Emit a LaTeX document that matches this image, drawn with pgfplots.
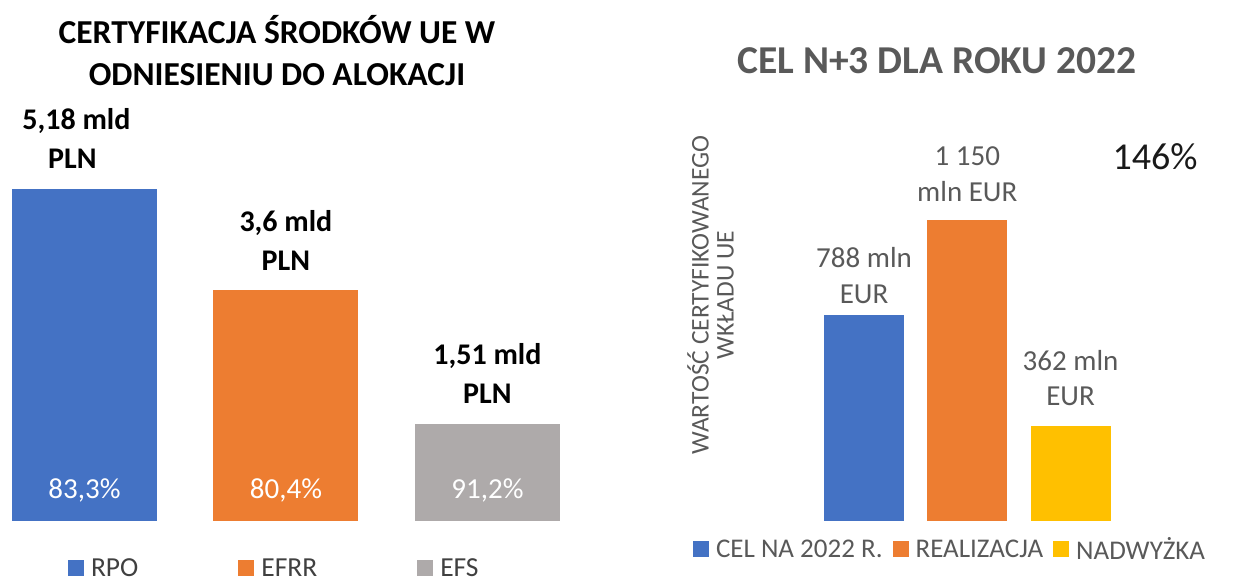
\documentclass[border=0pt]{standalone}
\usepackage{pgfplots}
\pgfplotsset{compat=1.18}
\usepackage{fontspec}
\setmainfont{Carlito}
\definecolor{cblue}{HTML}{4472C4}
\definecolor{corange}{HTML}{ED7D31}
\definecolor{cgray}{HTML}{AEAAAA}
\definecolor{cyellow}{HTML}{FFC000}
\definecolor{tgray}{HTML}{595959}
\definecolor{tdark}{HTML}{404040}
\pgfplotsset{sqleg/.style={legend image code/.code={\fill[##1] (0pt,-8pt) rectangle (16pt,8pt);}}}
\begin{document}
\begin{tikzpicture}[x=1pt,y=1pt]
\useasboundingbox (0,0) rectangle (1257,581);
% ---------- left panel ----------
\node[anchor=base, font=\fontsize{33.5}{40}\selectfont\bfseries] at (277,537.5) {CERTYFIKACJA ŚRODKÓW UE W};
\node[anchor=base, font=\fontsize{33.5}{40}\selectfont\bfseries] at (277,495.5) {ODNIESIENIU DO ALOKACJI};
\begin{axis}[
  at={(0pt,60.5pt)}, anchor=south west, scale only axis,
  x=201.5pt, y=64pt, xmin=-0.419, xmax=2.6, ymin=0, ymax=6,
  hide axis, clip=false,
  legend columns=3,
  legend style={draw=none, fill=none, inner sep=0pt, outer sep=0pt,
    at={(axis description cs:0.1118,-0.1240)}, anchor=west,
    font=\fontsize{27.5}{32}\selectfont, text=tdark,
    nodes={inner sep=0pt},
    /tikz/every odd column/.append style={column sep=7pt},
    /tikz/every even column/.append style={column sep=100pt}},
  legend cell align=left,
]
\addplot[ybar, bar width=145pt, fill=cblue, draw=none, sqleg] coordinates {(0,5.18)};
\addplot[ybar, bar width=145pt, fill=corange, draw=none, sqleg] coordinates {(1,3.6)};
\addplot[ybar, bar width=145pt, fill=cgray, draw=none, sqleg] coordinates {(2,1.51)};
\legend{RPO, EFRR, EFS}
% labels above
\node[anchor=base, font=\fontsize{30}{36}\selectfont\bfseries, yshift=59pt, xshift=-8pt] at (axis cs:0,5.18) {5,18 mld};
\node[anchor=base, font=\fontsize{30}{36}\selectfont\bfseries, yshift=20pt, xshift=-12pt] at (axis cs:0,5.18) {PLN};
\node[anchor=base, font=\fontsize{30}{36}\selectfont\bfseries, yshift=59pt] at (axis cs:1,3.6) {3,6 mld};
\node[anchor=base, font=\fontsize{30}{36}\selectfont\bfseries, yshift=20pt] at (axis cs:1,3.6) {PLN};
\node[anchor=base, font=\fontsize{30}{36}\selectfont\bfseries, yshift=59pt] at (axis cs:2,1.51) {1,51 mld};
\node[anchor=base, font=\fontsize{30}{36}\selectfont\bfseries, yshift=20pt] at (axis cs:2,1.51) {PLN};
% labels inside
\node[anchor=base, font=\fontsize{29}{34}\selectfont, text=white, yshift=22pt] at (axis cs:0,0) {83,3\%};
\node[anchor=base, font=\fontsize{29}{34}\selectfont, text=white, yshift=22pt] at (axis cs:1,0) {80,4\%};
\node[anchor=base, font=\fontsize{29}{34}\selectfont, text=white, yshift=22pt] at (axis cs:2,0) {91,2\%};
\end{axis}
% ---------- right panel ----------
\node[anchor=base, font=\fontsize{39.5}{44}\selectfont\bfseries, text=tgray] at (937,507) {CEL N+3 DLA ROKU 2022};
\node[anchor=base, font=\fontsize{38}{44}\selectfont, text=black!90] at (1155,411) {146\%};
\node[rotate=90, align=center, font=\fontsize{25.5}{25}\selectfont, text=tgray] at (710.5,286) {WARTOŚĆ CERTYFIKOWANEGO\\WKŁADU UE};
\begin{axis}[
  at={(812.4pt,60pt)}, anchor=south west, scale only axis,
  x=103.25pt, y=0.262pt, xmin=-0.5, xmax=2.5, ymin=0, ymax=1300,
  hide axis, clip=false,
  legend columns=3,
  legend style={draw=none, fill=none, inner sep=0pt, outer sep=0pt,
    at={(axis description cs:-0.3855,-0.0822)}, anchor=west,
    font=\fontsize{27}{32}\selectfont, text=tgray,
    nodes={inner sep=0pt},
    /tikz/every odd column/.append style={column sep=7pt},
    /tikz/every even column/.append style={column sep=10pt}},
  legend cell align=left,
]
\addplot[ybar, bar width=80pt, fill=cblue, draw=none, sqleg] coordinates {(0,788)};
\addplot[ybar, bar width=80pt, fill=corange, draw=none, sqleg] coordinates {(1,1150)};
\addplot[ybar, bar width=80pt, fill=cyellow, draw=none, sqleg] coordinates {(2,362)};
\legend{CEL NA 2022 R., REALIZACJA, NADWYŻKA}
\node[anchor=base, font=\fontsize{29}{34}\selectfont, text=tgray, yshift=47pt] at (axis cs:0,788) {788 mln};
\node[anchor=base, font=\fontsize{29}{34}\selectfont, text=tgray, yshift=11pt] at (axis cs:0,788) {EUR};
\node[anchor=base, font=\fontsize{29}{34}\selectfont, text=tgray, yshift=54pt] at (axis cs:1,1150) {1 150};
\node[anchor=base, font=\fontsize{29}{34}\selectfont, text=tgray, yshift=18pt] at (axis cs:1,1150) {mln EUR};
\node[anchor=base, font=\fontsize{29}{34}\selectfont, text=tgray, yshift=56pt] at (axis cs:2,362) {362 mln};
\node[anchor=base, font=\fontsize{29}{34}\selectfont, text=tgray, yshift=21pt] at (axis cs:2,362) {EUR};
\end{axis}
\end{tikzpicture}
\end{document}
